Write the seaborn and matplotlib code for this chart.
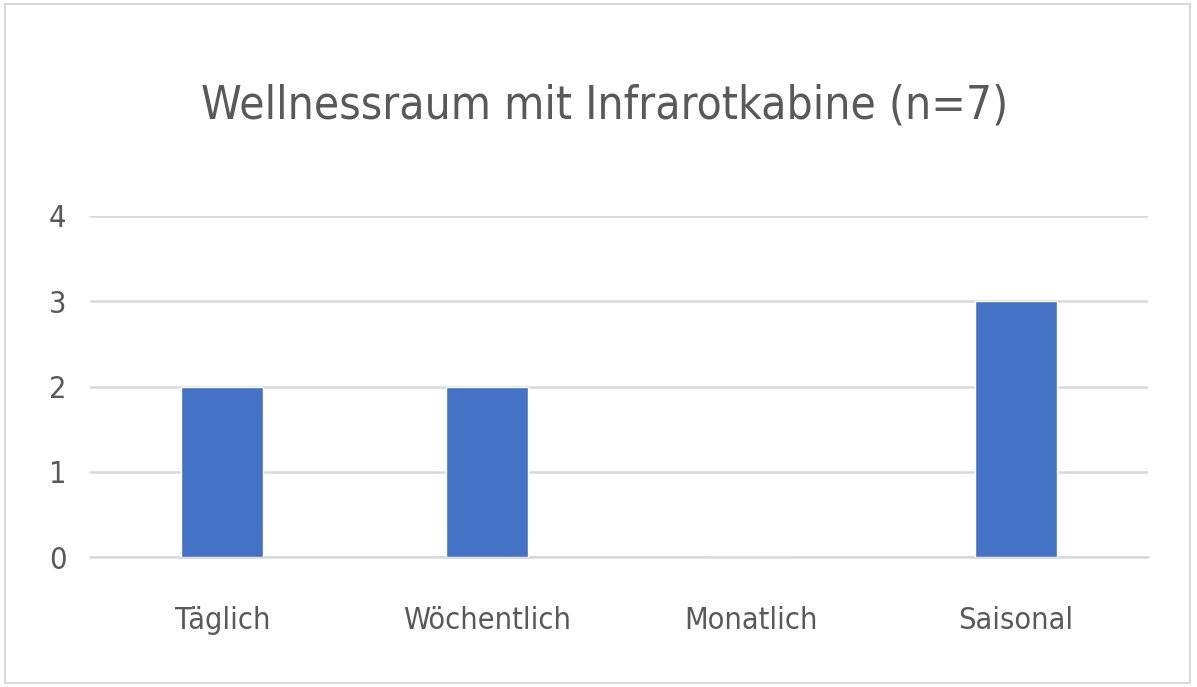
import matplotlib
matplotlib.use("Agg")
import matplotlib.pyplot as plt
import pandas as pd
import seaborn as sns
from matplotlib.patches import Rectangle

# data
categories = ["Täglich", "Wöchentlich", "Monatlich", "Saisonal"]
counts = [2, 2, 0, 3]
y_ticks = [0, 1, 2, 3, 4]

sns.set_style("white")
plt.rcParams["font.family"] = ["DejaVu Sans"]
plt.rcParams["font.stretch"] = "condensed"

df = pd.DataFrame({"category": categories, "count": counts})

fig = plt.figure(figsize=(11.97, 6.87), dpi=100)
ax = fig.add_axes([0.0752, 0.1892, 0.8838, 0.4964])

sns.barplot(data=df, x="category", y="count", color="#4472C4",
            width=0.31, saturation=1, ax=ax, zorder=3)

ax.set_ylim(0, 4)
ax.set_xlim(-0.5, 3.5)
ax.set_yticks(y_ticks)
ax.yaxis.grid(True, color="#D9D9D9", linewidth=1.8, zorder=0)
ax.set_axisbelow(True)
for side in ["top", "right", "left", "bottom"]:
    ax.spines[side].set_visible(False)
# baseline at zero, not clipped so it keeps full width
ax.axhline(0, color="#D9D9D9", linewidth=1.8, zorder=1, clip_on=False)
ax.tick_params(axis="both", length=0, labelsize=22, colors="#595959")
ax.tick_params(axis="x", pad=35)
ax.tick_params(axis="y", pad=17)
ax.set_xlabel("")
ax.set_ylabel("")

fig.text(0.505, 0.845, "Wellnessraum mit Infrarotkabine (n=7)",
         ha="center", va="center", fontsize=33, color="#595959")

# light border around the chart area
fig.patches.append(Rectangle((0.004, 0.006), 0.99, 0.988, transform=fig.transFigure,
                             fill=False, edgecolor="#D9D9D9", linewidth=1.5))

fig.savefig("out.png", dpi=100, facecolor="white")
